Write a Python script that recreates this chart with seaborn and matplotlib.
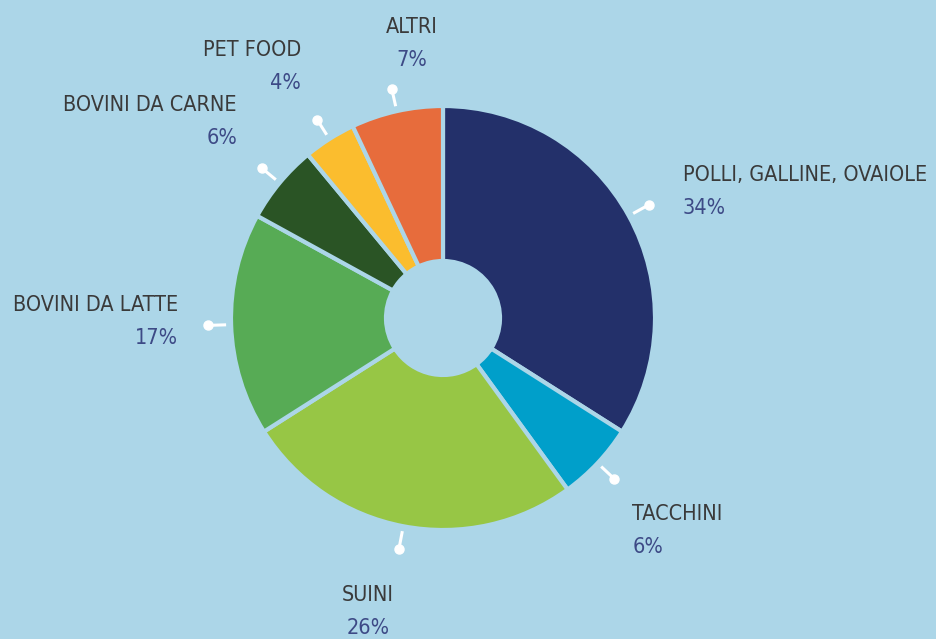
import numpy as np
import matplotlib.pyplot as plt
import seaborn as sns

# data
categories = ["POLLI, GALLINE, OVAIOLE", "TACCHINI", "SUINI", "BOVINI DA LATTE",
              "BOVINI DA CARNE", "PET FOOD", "ALTRI"]
shares = [34, 6, 26, 17, 6, 4, 7]
slice_colors = ["#23306a", "#009fca", "#97c645", "#57ab55", "#2a5425", "#fbbd2e", "#e76c3c"]

# label layout: offset (px) of the text block centre from the connector dot, alignment
label_offsets = [(34, 13), (18, -52), (-31, -63), (-30, 4), (-25, 47), (-16, 53), (20, 45)]
label_align = ["left", "left", "center", "right", "right", "right", "center"]

bg = "#acd6e8"
sns.set_style("white", {"axes.facecolor": bg, "figure.facecolor": bg})
plt.rcParams["font.family"] = ["DejaVu Sans"]
plt.rcParams["font.stretch"] = "condensed"

fig = plt.figure(figsize=(9.36, 6.39), dpi=100)
ax = fig.add_axes([0, 0, 1, 1])
cx, cy = 443, 318

R = 212
wedges, _ = ax.pie(shares, colors=sns.color_palette(slice_colors), radius=R,
                   startangle=90, counterclock=False,
                   wedgeprops=dict(width=R - 57, edgecolor=bg, linewidth=3))

for w, name, val, (dx, dy), ha in zip(wedges, categories, shares, label_offsets, label_align):
    ang = np.deg2rad((w.theta1 + w.theta2) / 2)
    x0, y0 = 217 * np.cos(ang), 217 * np.sin(ang)
    x1, y1 = 235 * np.cos(ang), 235 * np.sin(ang)
    ax.plot([x0, x1], [y0, y1], color="white", lw=2.2, solid_capstyle="butt")
    ax.plot(x1, y1, "o", color="white", ms=6.5)
    tx, ty = x1 + dx, y1 + dy
    ax.text(tx, ty + 16.5, name, ha=ha, va="center", fontsize=15.5, color="#3a3a3a",
            fontstretch="condensed")
    ax.text(tx, ty - 16.5, f"{val}%", ha=ha, va="center", fontsize=15.5, color="#3d4a86",
            fontstretch="condensed")

ax.set_xlim(-cx, 936 - cx)
ax.set_ylim(-(639 - cy), cy)
ax.set_aspect("equal")
ax.axis("off")

fig.savefig("out.png", dpi=100, facecolor=bg)
